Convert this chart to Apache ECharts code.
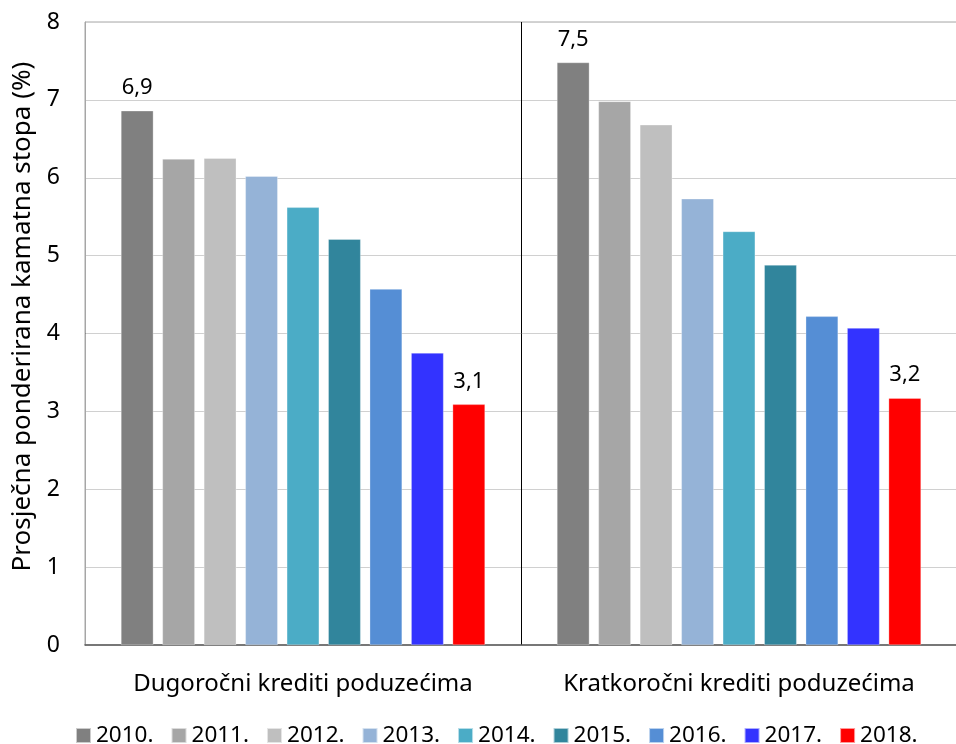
<!DOCTYPE html>
<html>
<head>
<meta charset="utf-8">
<script src="https://cdn.jsdelivr.net/npm/echarts@6/dist/echarts.min.js"></script>
<style>
  html, body { margin: 0; padding: 0; background: #fff; }
  #chart { width: 956px; height: 744px; }
</style>
</head>
<body>
<div id="chart"></div>
<script>
  var categories = ['Dugoročni krediti poduzećima', 'Kratkoročni krediti poduzećima'];
  var years = ['2010.', '2011.', '2012.', '2013.', '2014.', '2015.', '2016.', '2017.', '2018.'];
  var colors = ['#808080', '#a6a6a6', '#bfbfbf', '#95b3d7', '#4bacc6', '#31859c', '#558ed5', '#3333ff', '#ff0000'];
  // po godinama: [dugoročni, kratkoročni]
  var values = [
    [6.86, 7.48],
    [6.24, 6.98],
    [6.25, 6.68],
    [6.02, 5.73],
    [5.62, 5.31],
    [5.21, 4.88],
    [4.57, 4.22],
    [3.75, 4.07],
    [3.09, 3.17]
  ];
  var labelled = ['2010.', '2018.'];

  var font = '"Noto Sans", sans-serif';

  var series = years.map(function (y, i) {
    return {
      name: y,
      type: 'bar',
      data: values[i],
      barGap: '28%',
      barCategoryGap: '16.5%',
      itemStyle: { color: colors[i], borderColor: 'rgba(255,255,255,0.6)', borderWidth: 0.5 },
      label: {
        show: labelled.indexOf(y) >= 0,
        position: 'top',
        distance: 12,
        fontFamily: font,
        fontSize: 22,
        color: '#000',
        formatter: function (p) { return p.value.toFixed(1).replace('.', ','); }
      }
    };
  });

  var myChart = echarts.init(document.getElementById('chart'));
  var option = {
    animation: false,
    textStyle: { fontFamily: font },
    grid: {
      left: 85, right: -1, top: 22, bottom: 99,
      outerBoundsMode: 'none',
      show: true, borderColor: '#a6a6a6', borderWidth: 1
    },
    legend: {
      top: 719,
      left: 70,
      itemWidth: 15,
      itemHeight: 15,
      itemGap: 17,
      icon: 'rect',
      textStyle: { fontFamily: font, fontSize: 22.5, color: '#000' },
      data: years
    },
    xAxis: {
      type: 'category',
      data: categories,
      axisLine: { lineStyle: { color: '#595959', width: 1.5 } },
      axisTick: { show: false },
      splitLine: { show: true, interval: 0, lineStyle: { color: '#000', width: 1 } },
      axisLabel: { interval: 0, fontFamily: font, fontSize: 24, color: '#000', margin: 27 }
    },
    yAxis: {
      type: 'value',
      min: 0,
      max: 8,
      interval: 1,
      name: 'Prosječna ponderirana kamatna stopa (%)',
      nameLocation: 'middle',
      nameGap: 48,
      nameTextStyle: { fontFamily: font, fontSize: 26, color: '#000', padding: [0, 0, 0, 34] },
      axisLine: { show: true, lineStyle: { color: '#a6a6a6' } },
      axisTick: { show: false },
      splitLine: { lineStyle: { color: '#d0d0d0' } },
      axisLabel: { fontFamily: font, fontSize: 23, color: '#000', margin: 25 }
    },
    series: series
  };
  myChart.setOption(option);
</script>
</body>
</html>
